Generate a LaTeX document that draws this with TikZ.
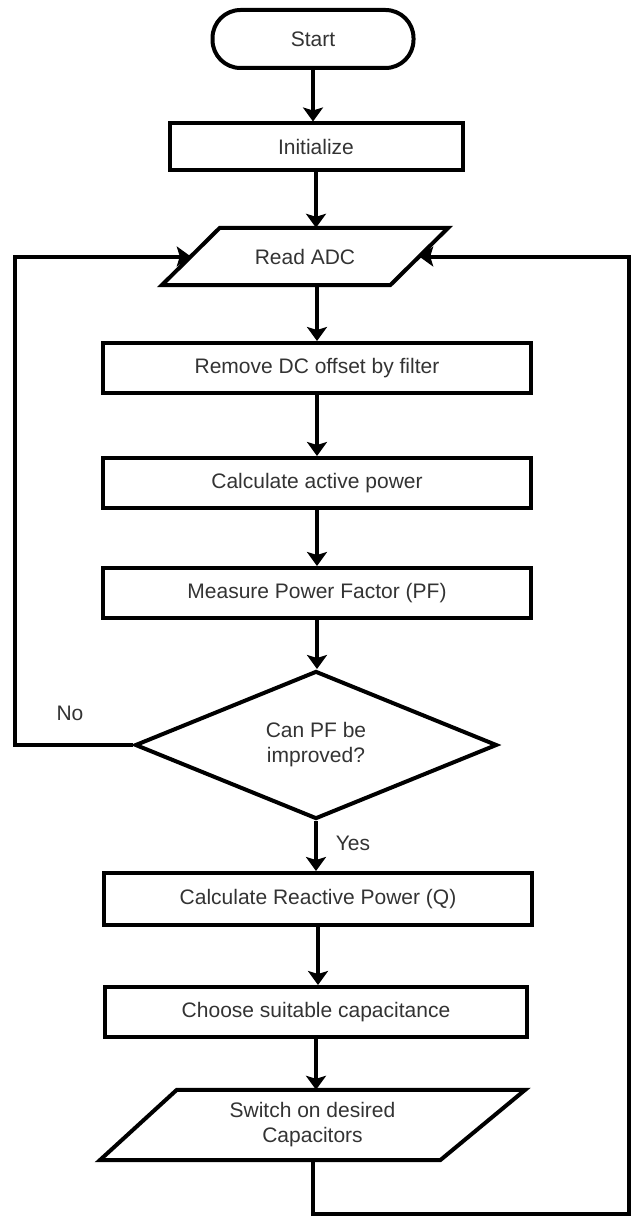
\documentclass[tikz,border=0pt]{standalone}
\usepackage{fontspec}
\setmainfont{Liberation Sans}
\usetikzlibrary{arrows.meta,calc,shapes.geometric}
\definecolor{txt}{HTML}{333333}
\begin{document}
\begin{tikzpicture}[x=1pt,y=-1pt,
  every node/.style={font=\fontsize{21}{25}\selectfont, text=txt},
  box/.style={draw=black, line width=4pt, minimum width=428pt, minimum height=50pt, inner sep=0pt, align=center},
  term/.style={draw=black, line width=4pt, rounded corners=28pt, minimum width=201pt, minimum height=58pt, inner sep=0pt},
  plain/.style={inner sep=0pt, align=center},
  outline/.style={draw=black, line width=4pt, line join=miter},
  decision/.style={diamond, draw=black, line width=4pt, minimum width=362pt, minimum height=148pt, inner sep=0pt, align=center},
  flow/.style={draw=black, line width=4pt, line join=miter, -{Stealth[length=14pt,width=20pt,inset=3pt]}},
  lbl/.style={inner sep=0pt}]
\useasboundingbox (0,0) rectangle (631,1217);

% nodes
\node[term] (start) at (313,39) {Start};
\node[box, minimum width=293pt, minimum height=47pt] (init) at (316,147) {Initialize};
\node[plain, minimum width=286pt, minimum height=57pt] (read) at (305,256.5) {Read ADC};
\draw[outline] ($(read.north west)+(58,0)$) -- (read.north east) -- ($(read.south east)+(-58,0)$) -- (read.south west) -- cycle;
\node[box] (dc) at (317,368) {Remove DC offset by filter};
\node[box] (act) at (317,483) {Calculate active power};
\node[box] (pf) at (317,593) {Measure Power Factor (PF)};
\node[decision] (dec) at (316,745) {Can PF be\\improved?};
\node[box, minimum height=52pt] (q) at (318,899) {Calculate Reactive Power (Q)};
\node[box, minimum width=422pt] (cap) at (316,1012) {Choose suitable capacitance};
\node[plain, minimum width=425pt, minimum height=70pt] (sw) at (312.5,1125) {Switch on desired\\Capacitors};
\draw[outline] ($(sw.north west)+(77,0)$) -- (sw.north east) -- ($(sw.south east)+(-85,0)$) -- (sw.south west) -- cycle;

\node[lbl] (no) at (70,713) {No};
\node[lbl] (yes) at (353,843) {Yes};

% helper coordinates
\coordinate (readL) at ($(read.west)+(29,0)$);
\coordinate (readR) at ($(read.east)+(-29,0)$);
\coordinate (lft) at (15,256.5);
\coordinate (br) at (629,1214);

% connectors
\draw[flow] (start.south) -- (start.south |- init.north);
\draw[flow] (init.south) -- (init.south |- read.north);
\draw[flow] (dc.north |- read.south) -- (dc.north);
\draw[flow] (dc.south) -- (act.north);
\draw[flow] (act.south) -- (pf.north);
\draw[flow] (pf.south) -- (pf.south |- dec.north);
\draw[flow] (dec.south) -- (dec.south |- q.north);
\draw[flow] (q.south) -- (q.south |- cap.north);
\draw[flow] (cap.south) -- (cap.south |- sw.north);
\draw[flow] (dec.west) -| (lft) -- (readL);
\draw[flow] (sw.south) |- (br) |- (readR);
\end{tikzpicture}
\end{document}
